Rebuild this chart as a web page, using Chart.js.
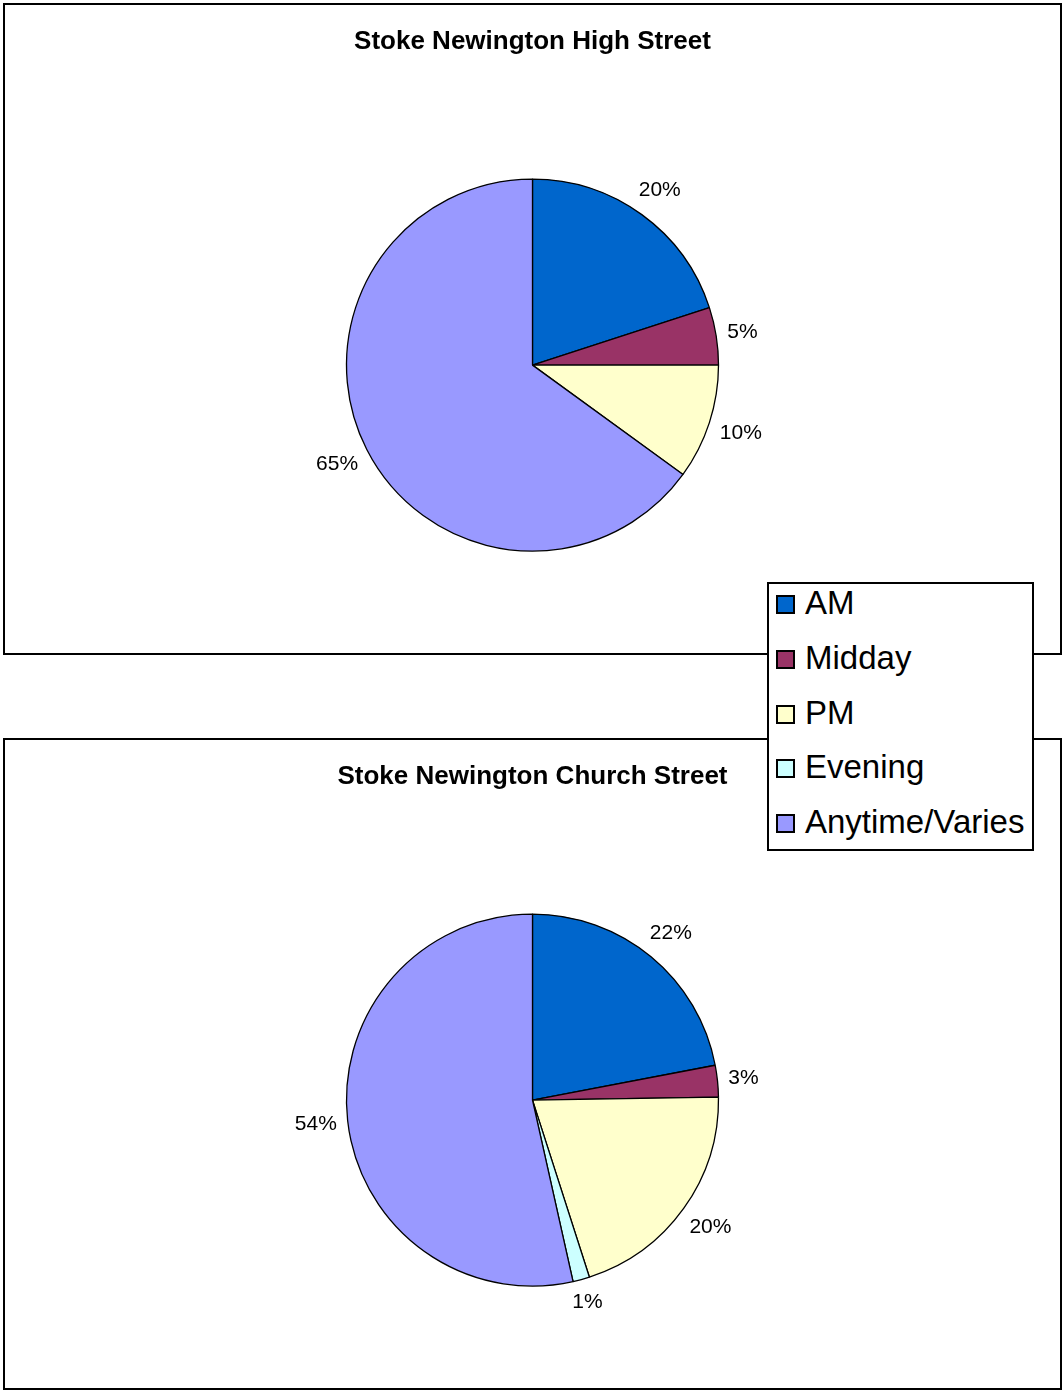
<!DOCTYPE html>
<html>
<head>
  <meta charset="utf-8">
  <title>Stoke Newington</title>
  <script src="https://cdn.jsdelivr.net/npm/chart.js@4.4.1/dist/chart.umd.min.js"></script>
  <style>
    body { margin: 0; background: #fff; font-family: "Liberation Sans", Arial, sans-serif; }
    .box { position: absolute; left: 3px; width: 1059px; height: 652px; border: 2px solid #000; box-sizing: border-box; background: #fff; }
    .box canvas { display: block; }
    #legend { position: absolute; left: 767px; top: 582px; width: 267px; height: 269px; border: 2px solid #000;
              box-sizing: border-box; background: #fff; padding-top: 0px; }
    #legend .row { position: relative; height: 54.8px; font-size: 33px; line-height: 38px; }
    #legend .sw { position: absolute; left: 7px; top: 11px; width: 19px; height: 19px; border: 2px solid #000; box-sizing: border-box; }
    #legend .tx { position: absolute; left: 36px; top: 0px; white-space: nowrap; }
  </style>
</head>
<body>

  <div class="box" style="top: 3px;"><canvas id="high-street" width="1055" height="648"></canvas></div>
  <div class="box" style="top: 738px;"><canvas id="church-street" width="1055" height="648"></canvas></div>
  <div id="legend"></div>

  <script>
    var categories = ["AM", "Midday", "PM", "Evening", "Anytime/Varies"];
    var colours = ["#0066CC", "#993366", "#FFFFCC", "#CCFFFF", "#9999FF"];

    var highStreetTitle = "Stoke Newington High Street";
    var highStreetValues = [20, 5, 10, 0, 65];

    var churchStreetTitle = "Stoke Newington Church Street";
    var churchStreetValues = [22, 2.75, 20.3, 1.45, 53.5];

    // percent labels outside the slices, like the spreadsheet does it
    var outsideLabels = {
      id: 'outsideLabels',
      afterDatasetsDraw: function(chart) {
        var ctx = chart.ctx;
        var meta = chart.getDatasetMeta(0);
        var data = chart.data.datasets[0].data;
        var total = data.reduce(function(a, b) { return a + b; }, 0);
        ctx.save();
        ctx.font = '21px "Liberation Sans", Arial, sans-serif';
        ctx.fillStyle = '#000';
        ctx.textAlign = 'center';
        ctx.textBaseline = 'middle';
        meta.data.forEach(function(arc, i) {
          if (!data[i]) return;
          var txt = Math.round(data[i] / total * 100) + '%';
          var mid = (arc.startAngle + arc.endAngle) / 2;
          var w = ctx.measureText(txt).width, h = 20;
          var c = Math.cos(mid), s = Math.sin(mid);
          var d = arc.outerRadius + 10 + Math.abs(c) * w / 2 + Math.abs(s) * h / 2;
          ctx.fillText(txt, arc.x + c * d, arc.y + s * d);
        });
        ctx.restore();
      }
    };

    function makePie(id, title, values) {
      return new Chart(document.getElementById(id), {
        type: 'pie',
        data: {
          labels: categories,
          datasets: [{
            data: values,
            backgroundColor: colours,
            borderColor: '#000',
            borderWidth: 1.3,
            radius: 186
          }]
        },
        options: {
          responsive: false,
          animation: false,
          layout: { padding: 0 },
          plugins: {
            legend: { display: false },
            tooltip: { enabled: false },
            title: {
              display: true,
              text: title,
              color: '#000',
              font: { family: '"Liberation Sans", Arial, sans-serif', size: 26, weight: 'bold' },
              padding: { top: 21, bottom: 20 }
            }
          }
        },
        plugins: [outsideLabels]
      });
    }

    makePie('high-street', highStreetTitle, highStreetValues);
    makePie('church-street', churchStreetTitle, churchStreetValues);

    var legend = document.getElementById('legend');
    categories.forEach(function(name, i) {
      var row = document.createElement('div');
      row.className = 'row';
      row.innerHTML = '<div class="sw" style="background:' + colours[i] + '"></div><div class="tx">' + name + '</div>';
      legend.appendChild(row);
    });
  </script>

</body>
</html>
